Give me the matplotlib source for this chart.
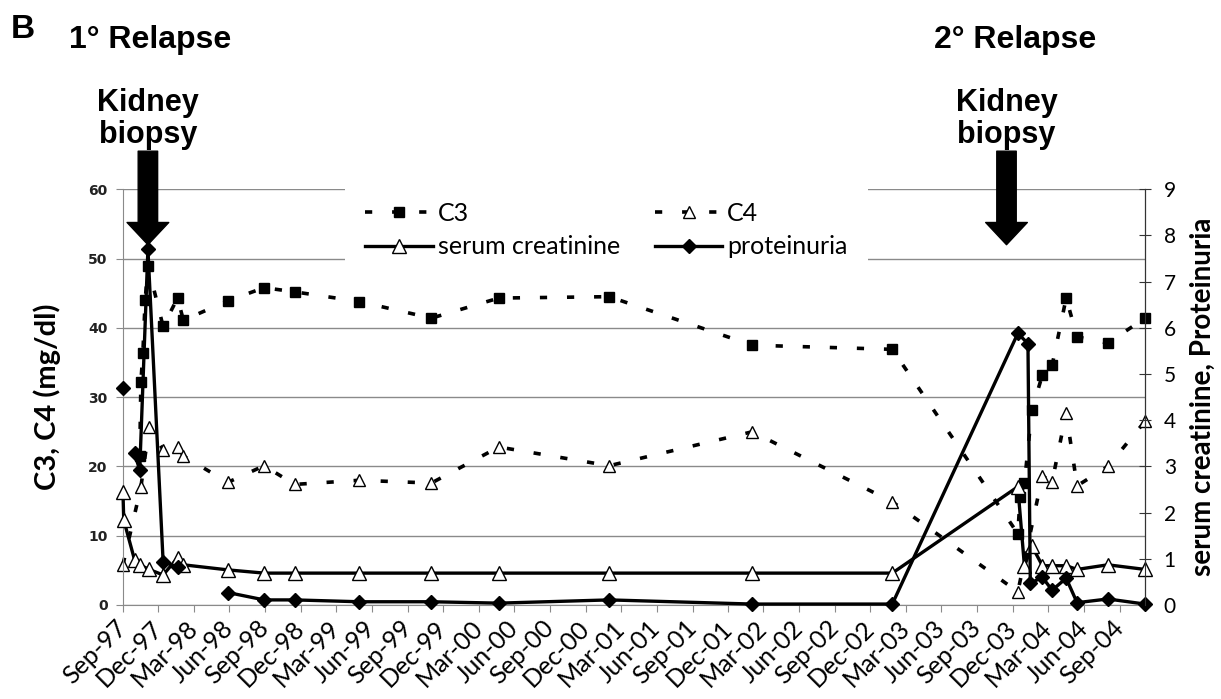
import numpy as np
import matplotlib
matplotlib.use('Agg')
import matplotlib.pyplot as plt
import matplotlib.dates as mdates
import pandas as pd

# C3 (mg/dl), left axis
c3_dates = ['1997-10-14', '1997-10-17', '1997-10-22', '1997-10-28', '1997-11-04', '1997-12-13',
            '1998-01-19', '1998-02-03', '1998-05-28', '1998-08-29', '1998-11-15', '1999-04-30',
            '1999-11-01', '2000-04-22', '2001-01-30', '2002-02-01', '2003-01-26', '2003-12-14',
            '2003-12-20', '2003-12-31', '2004-01-19', '2004-02-15', '2004-03-11', '2004-04-16',
            '2004-05-14', '2004-08-01', '2004-11-04']
c3 = [21.5, 32.2, 36.3, 44.0, 49.0, 40.2,
      44.3, 41.1, 43.9, 45.8, 45.2, 43.8,
      41.4, 44.3, 44.5, 37.5, 36.9, 10.3,
      15.6, 17.6, 28.1, 33.2, 34.6, 44.3,
      38.7, 37.8, 41.4]

# C4 (mg/dl), left axis
c4_dates = ['1997-09-01', '1997-10-17', '1997-11-07', '1997-12-13', '1998-01-19', '1998-02-03',
            '1998-05-28', '1998-08-29', '1998-11-15', '1999-04-30', '1999-11-01', '2000-04-22',
            '2001-01-30', '2002-02-01', '2003-01-26', '2003-12-14', '2004-02-15', '2004-03-11',
            '2004-04-16', '2004-05-14', '2004-08-01', '2004-11-04']
c4 = [5.8, 17.0, 25.7, 22.4, 22.8, 21.5,
      17.7, 20.1, 17.4, 18.0, 17.6, 22.8,
      20.1, 25.0, 14.9, 1.9, 18.6, 17.8,
      27.7, 17.2, 20.0, 26.5]

# serum creatinine, right axis
creat_dates = ['1997-09-01', '1997-09-03', '1997-10-01', '1997-10-14', '1997-11-07', '1997-12-13',
               '1998-01-19', '1998-02-03', '1998-05-28', '1998-08-29', '1998-11-15', '1999-04-30',
               '1999-11-01', '2000-04-22', '2001-01-30', '2002-02-01', '2003-01-26', '2003-12-14',
               '2003-12-31', '2004-01-19', '2004-02-15', '2004-03-11', '2004-04-16', '2004-05-14',
               '2004-08-01', '2004-11-04']
creat = [2.45, 1.84, 0.97, 0.87, 0.77, 0.65,
         1.02, 0.87, 0.76, 0.69, 0.69, 0.69,
         0.69, 0.69, 0.69, 0.69, 0.69, 2.56,
         0.84, 1.28, 0.85, 0.85, 0.85, 0.77,
         0.87, 0.77]

# proteinuria, right axis (nan = missing value, line breaks like in Excel)
prot_dates = ['1997-09-01', '1997-09-20', '1997-10-01', '1997-10-14', '1997-11-04', '1997-12-13',
              '1998-01-19', '1998-03-01', '1998-05-28', '1998-08-29', '1998-11-15', '1999-04-30',
              '1999-11-01', '2000-04-22', '2001-01-30', '2002-02-01', '2003-01-26', '2003-12-14',
              '2004-01-09', '2004-01-15', '2004-02-15', '2004-03-11', '2004-04-16', '2004-05-14',
              '2004-08-01', '2004-11-04']
prot = [4.7, np.nan, 3.28, 2.92, 7.7, 0.94,
        0.82, np.nan, 0.27, 0.11, 0.11, 0.07,
        0.07, 0.04, 0.11, 0.02, 0.02, 5.88,
        5.66, 0.47, 0.6, 0.32, 0.58, 0.05,
        0.13, 0.02]

biopsy_dates = ['1997-11-04', '2003-11-15']
relapse_labels = ['1° Relapse', '2° Relapse']

c3_dates = pd.to_datetime(c3_dates)
c4_dates = pd.to_datetime(c4_dates)
creat_dates = pd.to_datetime(creat_dates)
prot_dates = pd.to_datetime(prot_dates)
biopsy_dates = pd.to_datetime(biopsy_dates)

fig = plt.figure(figsize=(12.21, 6.99), dpi=100)
ax = fig.add_axes([0.1007, 0.1345, 0.8370, 0.5947])
ax2 = ax.twinx()

dash = (0, (2, 5.5))
l_c3, = ax.plot(c3_dates, c3, color='black', lw=2.6, ls=dash, marker='s', ms=6.5,
                mfc='black', mec='black', label='C3', clip_on=False)
l_c4, = ax.plot(c4_dates, c4, color='black', lw=2.6, ls=dash, marker='^', ms=9,
                mfc='white', mec='black', mew=1, label='C4', clip_on=False)
l_cr, = ax2.plot(creat_dates, creat, color='black', lw=2.4, marker='^', ms=10,
                 mfc='white', mec='black', mew=1, label='serum creatinine', clip_on=False)
l_pr, = ax2.plot(prot_dates, prot, color='black', lw=2.4, marker='D', ms=7.5,
                 mfc='black', mec='black', label='proteinuria', clip_on=False)

ax.set_ylim(0, 60)
ax.set_yticks(range(0, 61, 10))
ax2.set_ylim(0, 9)
ax2.set_yticks(range(0, 10))
ax.set_xlim(pd.Timestamp('1997-09-01'), pd.Timestamp('2004-11-04'))

ax.yaxis.grid(True, color='#8a8a8a', lw=1)
ax.set_axisbelow(True)

ax.xaxis.set_major_locator(mdates.MonthLocator(bymonth=[3, 6, 9, 12]))
ax.xaxis.set_major_formatter(mdates.DateFormatter('%b-%y'))
ax.tick_params(axis='x', direction='out', length=5, color='#8a8a8a', pad=9)
for lab in ax.get_xticklabels():
    lab.set_rotation(45)
    lab.set_ha('right')
    lab.set_va('center')
    lab.set_rotation_mode('anchor')
    lab.set_fontfamily('Lato')
    lab.set_fontsize(18)

ax.tick_params(axis='y', direction='out', length=5, color='#8a8a8a', pad=6)
for lab in ax.get_yticklabels():
    lab.set_fontfamily('DejaVu Sans')
    lab.set_fontweight('bold')
    lab.set_fontsize(10)
    lab.set_color('#222222')
ax2.tick_params(axis='y', direction='inout', length=9, color='#333333', pad=9)
for lab in ax2.get_yticklabels():
    lab.set_fontfamily('Lato')
    lab.set_fontsize(15)

for a in (ax, ax2):
    a.spines['top'].set_visible(False)
ax.spines['left'].set_color('#8a8a8a')
ax.spines['bottom'].set_color('#8a8a8a')
ax2.spines['left'].set_visible(False)
ax2.spines['bottom'].set_visible(False)
ax2.spines['right'].set_color('#333333')

ax.set_ylabel('C3, C4 (mg/dl)', fontfamily='Lato', fontweight='bold', fontsize=21, labelpad=20)
ax2.set_ylabel('serum creatinine, Proteinuria', fontfamily='Lato', fontweight='bold',
               fontsize=20, labelpad=10)

leg = ax2.legend(handles=[l_c3, l_cr, l_c4, l_pr], ncol=2, loc='upper left',
                 bbox_to_anchor=(345 / 1221, 1 - 182 / 699), bbox_transform=fig.transFigure,
                 borderaxespad=0, borderpad=0.8, frameon=True, facecolor='white',
                 edgecolor='none', framealpha=1, prop={'family': 'Lato', 'size': 18},
                 handlelength=2.7, handletextpad=0.2, columnspacing=1.4, labelspacing=0.42)

# biopsy arrows and relapse labels
for d, txt in zip(biopsy_dates, relapse_labels):
    ax.annotate('', xy=(d, 52), xytext=(d, 65.5), xycoords='data',
                arrowprops=dict(facecolor='black', edgecolor='black', width=14,
                                headwidth=30, headlength=16, shrink=0),
                annotation_clip=False)
    ax.annotate('Kidney\nbiopsy', xy=(d, 65.6), xycoords='data', ha='center', va='bottom',
                fontsize=22, fontweight='bold', fontfamily='Liberation Sans',
                linespacing=1.12, annotation_clip=False)

fig.text(69 / 1221, 1 - 25 / 699, relapse_labels[0], ha='left', va='top', fontsize=23,
         fontweight='bold', fontfamily='Liberation Sans')
fig.text(1096 / 1221, 1 - 25 / 699, relapse_labels[1], ha='right', va='top', fontsize=23,
         fontweight='bold', fontfamily='Liberation Sans')
fig.text(11 / 1221, 1 - 14 / 699, 'B', ha='left', va='top', fontsize=24,
         fontweight='bold', fontfamily='Liberation Sans')

fig.savefig('out.png', dpi=100)
